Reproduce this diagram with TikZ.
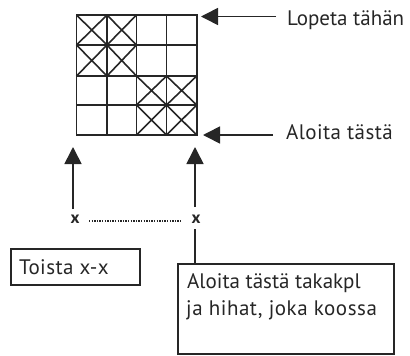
\documentclass[tikz,border=0pt]{standalone}
\usepackage{fontspec}
\setmainfont{PT Sans}
\usetikzlibrary{arrows.meta}
\definecolor{ink}{HTML}{262626}
\tikzset{
  gridline/.style={draw=ink,line width=1.9pt},
  crossline/.style={draw=ink,line width=1.6pt},
  bigarrow/.style={draw=ink,line width=1.6pt,-{Triangle[length=17pt,width=17pt]}},
  plainline/.style={draw=ink,line width=1.6pt},
  label/.style={inner sep=0pt,anchor=base west,text=ink,font=\fontsize{21}{24}\selectfont},
  mark x/.style={inner sep=0pt,text=ink,font=\fontsize{17}{17}\selectfont\bfseries},
  boxed/.style={draw=ink,line width=2.1pt,inner sep=0pt,anchor=north west},
}
\begin{document}
\begin{tikzpicture}[x=1pt,y=-1pt]
\useasboundingbox (0,0) rectangle (410,356);
% grid
\def\gx{{76.5,107,136.5,166.5,196.7}}
\def\gy{{15,45,76,105,135}}
\foreach \i in {0,...,4}{
  \pgfmathsetmacro\xx{\gx[\i]}
  \pgfmathsetmacro\yy{\gy[\i]}
  \draw[gridline,line cap=rect] (\xx,15) -- (\xx,135);
  \draw[gridline,line cap=rect] (76.5,\yy) -- (196.7,\yy);
}
\foreach \a/\b in {0/0,1/0,0/1,1/1,2/2,3/2,2/3,3/3}{
  \pgfmathsetmacro\xa{\gx[\a]}
  \pgfmathsetmacro\xb{\gx[\a+1]}
  \pgfmathsetmacro\ya{\gy[\b]}
  \pgfmathsetmacro\yb{\gy[\b+1]}
  \draw[crossline] (\xa,\ya) -- (\xb,\yb) (\xa,\yb) -- (\xb,\ya);
}
% labels
\node[label] (lopeta) at (287,25) {Lopeta tähän};
\node[label] (aloita) at (286,139) {\addfontfeature{LetterSpace=2}Aloita tästä};
\coordinate (lopetaTip) at (201,16.5);
\coordinate (lopetaEnd) at (276,16.5);
\coordinate (aloitaTip) at (203,135);
\coordinate (aloitaEnd) at (273,135);
\draw[bigarrow] (lopetaEnd) -- (lopetaTip);
\draw[bigarrow] (aloitaEnd) -- (aloitaTip);
% x marks
\node[mark x] (xa) at (75,219) {x};
\node[mark x] (xb) at (196,219) {x};
\coordinate (upa) at (73,147);
\coordinate (upb) at (195,147);
\coordinate (upaS) at (73,209);
\coordinate (upbS) at (195,207);
\draw[bigarrow] (upaS) -- (upa);
\draw[bigarrow] (upbS) -- (upb);
\coordinate (dotA) at (89,221);
\coordinate (dotB) at (182,221);
\draw[draw=ink,line width=1.3pt,dash pattern=on 1.3pt off 1.3pt] (dotA) -- (dotB);
% boxes
\node[boxed,minimum width=129.5pt,minimum height=36pt] (toista) at (9.5,248) {};
\node[label] (toistaT) at (19,274) {\addfontfeature{LetterSpace=2}Toista x-x};
\node[boxed,minimum width=216pt,minimum height=90pt] (koko) at (177,263) {};
\node[label] (k1) at (187,288) {Aloita tästä takakpl};
\node[label] (k2) at (186,315) {\addfontfeature{LetterSpace=2.5}ja hihat, joka koossa};
\coordinate (stem) at (195,229);
\draw[plainline] (stem) -- (stem |- koko.north);
\end{tikzpicture}
\end{document}
